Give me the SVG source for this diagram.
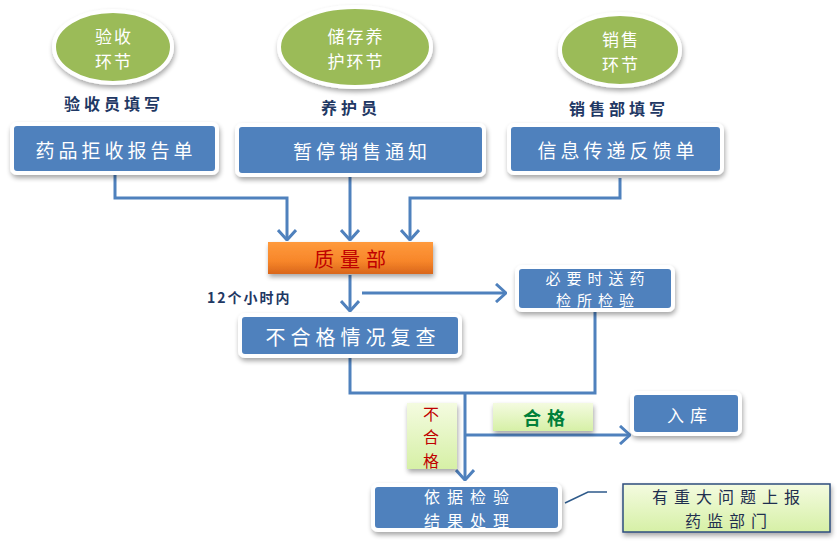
<svg xmlns="http://www.w3.org/2000/svg" width="837" height="544" viewBox="0 0 837 544">
<style>
.ell{fill:#9BBB59;stroke:#fff;stroke-width:4;filter:url(#sh)}
.box{fill:#4F81BD;stroke:#fff;stroke-width:4;filter:url(#sh)}
.t{font-family:"Noto Sans CJK SC","Noto Sans",sans-serif;fill:#fff;text-anchor:middle;dominant-baseline:central}
.lbl{font-family:"Noto Sans CJK SC","Noto Sans",sans-serif;fill:#1F3864;text-anchor:middle;dominant-baseline:central;font-weight:bold}
.ln{fill:none;stroke:#4F81BD;stroke-width:3}
.arr{marker-end:url(#ah)}
</style>
<defs>
<filter id="sh" x="-20%" y="-20%" width="140%" height="150%">
<feGaussianBlur in="SourceAlpha" stdDeviation="2.5"/>
<feOffset dx="1" dy="3" result="b"/>
<feComponentTransfer><feFuncA type="linear" slope="0.35"/></feComponentTransfer>
<feMerge><feMergeNode/><feMergeNode in="SourceGraphic"/></feMerge>
</filter>
<linearGradient id="og" x1="0" y1="0" x2="0" y2="1">
<stop offset="0" stop-color="#FF9A3C"/><stop offset="0.6" stop-color="#F7862A"/><stop offset="1" stop-color="#D9661A"/>
</linearGradient>
<linearGradient id="gg" x1="0" y1="0" x2="0" y2="1">
<stop offset="0" stop-color="#F4FBE0"/><stop offset="1" stop-color="#D6F0A6"/>
</linearGradient>
<marker id="ah" viewBox="0 0 12 20" markerWidth="12" markerHeight="20" refX="11" refY="10" orient="auto" markerUnits="userSpaceOnUse">
<path d="M1,1 L11,10 L1,19" fill="none" stroke="#4F81BD" stroke-width="3"/>
</marker>
</defs>

<g id="connectors">
<path class="ln arr" d="M115,175 V198 H287 V240"/>
<path class="ln arr" d="M350,175 V240"/>
<path class="ln arr" d="M620,178 V198 H410 V240"/>
<path class="ln arr" d="M350,275 V311"/>
<path class="ln arr" d="M362,293 H506"/>
<path class="ln" d="M350,357 V393 H595 V310"/>
<path class="ln arr" d="M465,393 V480"/>
<path class="ln arr" d="M465,435 H630"/>
<path d="M565,503 L588,492 H607" fill="none" stroke="#2E5A8A" stroke-width="1.5"/>
</g>

<g id="n-yanshou">
<ellipse class="ell" cx="113" cy="47" rx="59" ry="36"/>
<text class="t" font-size="17" letter-spacing="2"><tspan x="114" y="35">验收</tspan><tspan x="114" y="60">环节</tspan></text>
</g>
<g id="n-chucun">
<ellipse class="ell" cx="355" cy="47" rx="76" ry="40"/>
<text class="t" font-size="17" letter-spacing="2"><tspan x="356" y="35">储存养</tspan><tspan x="356" y="60">护环节</tspan></text>
</g>
<g id="n-xiaoshou">
<ellipse class="ell" cx="620" cy="50" rx="60" ry="36"/>
<text class="t" font-size="17" letter-spacing="2"><tspan x="621" y="38">销售</tspan><tspan x="621" y="63">环节</tspan></text>
</g>

<g id="lbl-top">
<text class="lbl" x="114" y="103" font-size="16" letter-spacing="4">验收员填写</text>
<text class="lbl" x="351" y="107" font-size="16" letter-spacing="4">养护员</text>
<text class="lbl" x="619" y="108" font-size="16" letter-spacing="4">销售部填写</text>
</g>

<g id="n-jushou">
<rect class="box" x="12" y="124" width="205" height="49" rx="5"/>
<text class="t" x="116" y="149" font-size="19" letter-spacing="4">药品拒收报告单</text>
</g>
<g id="n-zanting">
<rect class="box" x="237" y="125" width="247" height="50" rx="5"/>
<text class="t" x="362" y="150" font-size="19" letter-spacing="4">暂停销售通知</text>
</g>
<g id="n-xinxi">
<rect class="box" x="509" y="125" width="213" height="48" rx="5"/>
<text class="t" x="618" y="149" font-size="19" letter-spacing="4">信息传递反馈单</text>
</g>

<g id="n-zhiliang">
<rect x="268" y="242" width="165" height="32" fill="url(#og)" filter="url(#sh)"/>
<text class="t" x="353" y="258" font-size="20" letter-spacing="6" style="fill:#C00000">质量部</text>
</g>

<text id="lbl-12h" x="207" y="297" font-family="Noto Sans CJK SC,Noto Sans,sans-serif" font-size="14" fill="#1F3864" font-weight="bold" letter-spacing="2" dominant-baseline="central">12个小时内</text>

<g id="n-bibyao">
<rect class="box" x="517" y="267" width="156" height="43" rx="5"/>
<text class="t" font-size="15" letter-spacing="6"><tspan x="598" y="277">必要时送药</tspan><tspan x="598" y="299">检所检验</tspan></text>
</g>

<g id="n-fucha">
<rect class="box" x="240" y="315" width="220" height="41" rx="5"/>
<text class="t" x="353" y="336" font-size="20" letter-spacing="5">不合格情况复查</text>
</g>

<g id="lbl-buhege">
<rect x="407" y="403" width="50" height="66" fill="url(#gg)" filter="url(#sh)"/>
<text class="t" font-size="16" style="fill:#C00000"><tspan x="431" y="412.5">不</tspan><tspan x="431" y="436">合</tspan><tspan x="431" y="459.5">格</tspan></text>
</g>
<g id="lbl-hege">
<rect x="493" y="403" width="100" height="28" fill="url(#gg)" filter="url(#sh)"/>
<text class="t" x="547" y="417" font-size="18" letter-spacing="6" style="fill:#00803A;font-weight:bold">合格</text>
</g>

<g id="n-ruku">
<rect class="box" x="632" y="393" width="108" height="41" rx="5"/>
<text class="t" x="690" y="414" font-size="17" letter-spacing="6">入库</text>
</g>

<g id="n-yiju">
<rect class="box" x="373" y="485" width="187" height="45" rx="5"/>
<text class="t" font-size="16" letter-spacing="7"><tspan x="470" y="496">依据检验</tspan><tspan x="470" y="520">结果处理</tspan></text>
</g>

<g id="n-shangbao">
<rect x="623" y="484" width="207" height="48" fill="url(#gg)" stroke="#2E4E7E" stroke-width="1.5" filter="url(#sh)"/>
<text class="t" font-size="16" letter-spacing="6" style="fill:#1F2F4F"><tspan x="729" y="496">有重大问题上报</tspan><tspan x="729" y="520">药监部门</tspan></text>
</g>
</svg>
